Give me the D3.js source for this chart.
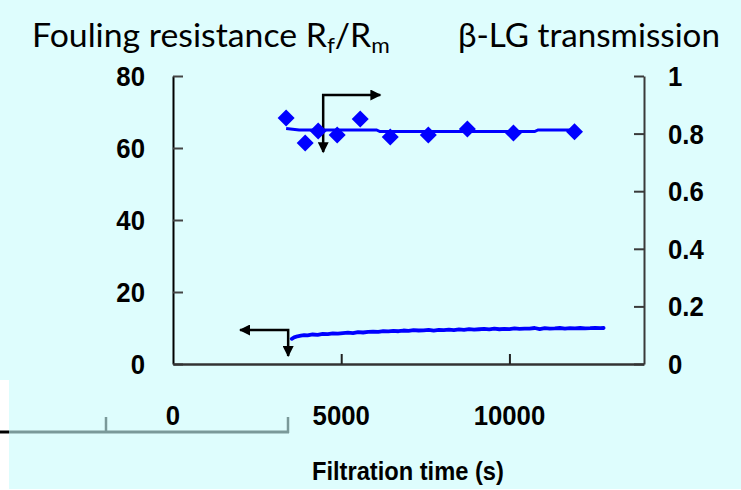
<!DOCTYPE html>
<html><head><meta charset="utf-8">
<script src="https://cdn.jsdelivr.net/npm/d3@7"></script>
<style>body{margin:0;background:#fff}svg{display:block}</style>
</head><body><svg id="c" width="741" height="490"></svg>
<script>
// ---- data ----
const xTicks = [0, 5000, 10000];
const xTickLabels = ["0", "5000", "10000"];
const yLeftTicks = [0, 20, 40, 60, 80];
const yLeftLabels = ["0", "20", "40", "60", "80"];
const yRightTicks = [0, 0.2, 0.4, 0.6, 0.8, 1];
const yRightLabels = ["0", "0.2", "0.4", "0.6", "0.8", "1"];

// beta-LG transmission (right axis), measured points
const transTime  = [3363, 3929, 4315, 4881, 5565, 6458, 7589, 8750, 10119, 11935];
const transValue = [0.854, 0.767, 0.809, 0.795, 0.851, 0.788, 0.795, 0.816, 0.802, 0.806];
// trend line through transmission points
const transFitTime  = [3363, 3750, 4300, 6050, 6150, 10750, 10850, 11935];
const transFitValue = [0.818, 0.8125, 0.8125, 0.8125, 0.807, 0.807, 0.8125, 0.8125];

// fouling resistance Rf/Rm (left axis)
const foulTime = [3530,3600,3700,3800,3900,4000,4150,4300,4450,4600,4750,4900,5050,5200,5350,5500,5650,5800,5950,6100,6250,6400,6550,6700,6850,7000,7150,7300,7450,7600,7750,7900,8050,8200,8350,8500,8650,8800,8950,9100,9250,9400,9550,9700,9850,10000,10150,10300,10450,10600,10750,10900,11050,11200,11350,11500,11650,11800,11950,12100,12250,12400,12550,12700,12800];
const foulValue = [7.0,7.4,7.7,7.85,8.0,7.95,8.2,8.1,8.35,8.3,8.5,8.45,8.6,8.7,8.6,8.85,8.75,8.9,9.0,8.95,9.15,9.05,9.2,9.1,9.3,9.2,9.4,9.3,9.35,9.5,9.3,9.45,9.4,9.55,9.4,9.6,9.5,9.7,9.55,9.65,9.75,9.6,9.8,9.65,9.75,9.7,9.9,9.75,9.85,9.8,10.0,9.7,9.95,9.85,9.9,10.0,9.85,9.95,9.9,10.0,9.9,9.95,10.05,9.95,10.0];

// annotation arrows (data coordinates)
const arrowRightTime = [4464, 4464, 6161];
const arrowRightValue = [0.736, 0.934, 0.934];
const arrowLeftTime = [1994, 3423, 3423];
const arrowLeftValue = [9.44, 9.44, 2.22];

// ---- chart ----
const svg = d3.select("#c");
const W = 741, H = 490;
const x = d3.scaleLinear().domain([0, 14000]).range([173, 644]);
const yL = d3.scaleLinear().domain([0, 80]).range([364, 76]);
const yR = d3.scaleLinear().domain([0, 1]).range([364, 76]);

const bg = "#defdfd";
svg.append("rect").attr("x", 0).attr("y", 0).attr("width", W).attr("height", 489).attr("fill", bg);
svg.append("rect").attr("x", 0).attr("y", 380).attr("width", 9).attr("height", 110).attr("fill", "#fff");

// stray axis fragment at lower left (part of the original slide)
svg.append("line").attr("x1", 0).attr("x2", 9).attr("y1", 432).attr("y2", 432).attr("stroke", "#000").attr("stroke-width", 3);
svg.append("line").attr("x1", 9).attr("x2", 289).attr("y1", 432).attr("y2", 432).attr("stroke", "#7a9999").attr("stroke-width", 3);
[106, 288].forEach(px => svg.append("line").attr("x1", px).attr("x2", px).attr("y1", 417).attr("y2", 433).attr("stroke", "#7a9999").attr("stroke-width", 2.5));

// axes
const axL = svg.append("g").attr("transform", "translate(173,0)")
  .call(d3.axisRight(yL).tickValues(yLeftTicks).tickSize(10).tickSizeOuter(0).tickFormat(""));
axL.select(".domain").attr("stroke", "#000").attr("stroke-width", 2);
axL.selectAll(".tick line").attr("stroke", "#444").attr("stroke-width", 2);

const axR = svg.append("g").attr("transform", "translate(644,0)")
  .call(d3.axisLeft(yR).tickValues(yRightTicks).tickSize(10).tickSizeOuter(0).tickFormat(""));
axR.select(".domain").attr("stroke", "#3a3a3a").attr("stroke-width", 2);
axR.selectAll(".tick line").attr("stroke", "#3a3a3a").attr("stroke-width", 2);

const axB = svg.append("g").attr("transform", "translate(0,364)")
  .call(d3.axisTop(x).tickValues(xTicks.filter(d => d > 0)).tickSize(10).tickSizeOuter(0).tickFormat(""));
axB.select(".domain").attr("stroke", "#333").attr("stroke-width", 2.5);
axB.selectAll(".tick line").attr("stroke", "#222").attr("stroke-width", 2);

// condensed labels
function label(px, py, txt, anchor, size, sx) {
  const g = svg.append("g").attr("transform", `translate(${px},${py}) scale(${sx},1)`);
  g.append("text").attr("x", 0).attr("y", 0).attr("text-anchor", anchor)
    .attr("font-family", "'Liberation Sans', Arial, sans-serif").attr("font-weight", "bold")
    .attr("font-size", size).attr("fill", "#000").text(txt);
}
yLeftTicks.forEach((v, i) => label(145, yL(v) + 10, yLeftLabels[i], "end", 28, 0.92));
yRightTicks.forEach((v, i) => label(668, yR(v) + 10, yRightLabels[i], "start", 28, 0.92));
xTicks.forEach((v, i) => label(x(v), 425, xTickLabels[i], "middle", 28, 0.92));

// axis title bottom
(function () {
  const g = svg.append("g");
  const t = g.append("text").attr("font-family", "'Liberation Sans', Arial, sans-serif").attr("font-weight", "bold")
    .attr("font-size", 25).text("Filtration time (s)");
  const w = t.node().getComputedTextLength();
  g.attr("transform", `translate(312,480) scale(${192 / w},1)`);
})();

// top titles (Calibri-like)
function title(px, py, targetW, build) {
  const g = svg.append("g");
  const t = g.append("text").attr("font-family", "Lato, 'Open Sans', sans-serif").attr("font-size", 33).attr("fill", "#000");
  build(t);
  const w = t.node().getBBox().width;
  g.attr("transform", `translate(${px},${py}) scale(${targetW / w},1)`);
}
title(32, 47, 358, t => {
  t.append("tspan").text("Fouling resistance R");
  t.append("tspan").attr("font-size", 22).attr("dy", 6).text("f");
  t.append("tspan").attr("dy", -6).text("/R");
  t.append("tspan").attr("font-size", 22).attr("dy", 6).text("m");
});
title(458, 47, 262, t => { t.text("β-LG transmission"); });

// arrow markers
const defs = svg.append("defs");
defs.append("marker").attr("id", "ah").attr("viewBox", "0 0 10 10").attr("refX", 9).attr("refY", 5)
  .attr("markerWidth", 5).attr("markerHeight", 4.4).attr("markerUnits", "strokeWidth")
  .attr("orient", "auto-start-reverse")
  .append("path").attr("d", "M0,0 L10,5 L0,10 Z").attr("fill", "#000");

// fouling resistance line
svg.append("path")
  .datum(foulTime.map((t, i) => [t, foulValue[i]]))
  .attr("d", d3.line().x(d => x(d[0])).y(d => yL(d[1])))
  .attr("fill", "none").attr("stroke", "#0000ff").attr("stroke-width", 3.8)
  .attr("stroke-linejoin", "round").attr("stroke-linecap", "round");

// transmission trend line
svg.append("path")
  .datum(transFitTime.map((t, i) => [t, transFitValue[i]]))
  .attr("d", d3.line().x(d => x(d[0])).y(d => yR(d[1])))
  .attr("fill", "none").attr("stroke", "#0000ff").attr("stroke-width", 3);

// arrows
svg.append("path")
  .datum(arrowLeftTime.map((t, i) => [t, arrowLeftValue[i]]))
  .attr("d", d3.line().x(d => x(d[0])).y(d => yL(d[1])))
  .attr("fill", "none").attr("stroke", "#000").attr("stroke-width", 2.5)
  .attr("marker-start", "url(#ah)").attr("marker-end", "url(#ah)");
svg.append("path")
  .datum(arrowRightTime.map((t, i) => [t, arrowRightValue[i]]))
  .attr("d", d3.line().x(d => x(d[0])).y(d => yR(d[1])))
  .attr("fill", "none").attr("stroke", "#000").attr("stroke-width", 2.5)
  .attr("marker-start", "url(#ah)").attr("marker-end", "url(#ah)");

// transmission diamonds
const r = 8.5;
svg.append("g").selectAll("path").data(transTime.map((t, i) => [t, transValue[i]])).join("path")
  .attr("transform", d => `translate(${x(d[0])},${yR(d[1])})`)
  .attr("d", `M0,${-r}L${r},0L0,${r}L${-r},0Z`)
  .attr("fill", "#0000ff");
</script></body></html>
